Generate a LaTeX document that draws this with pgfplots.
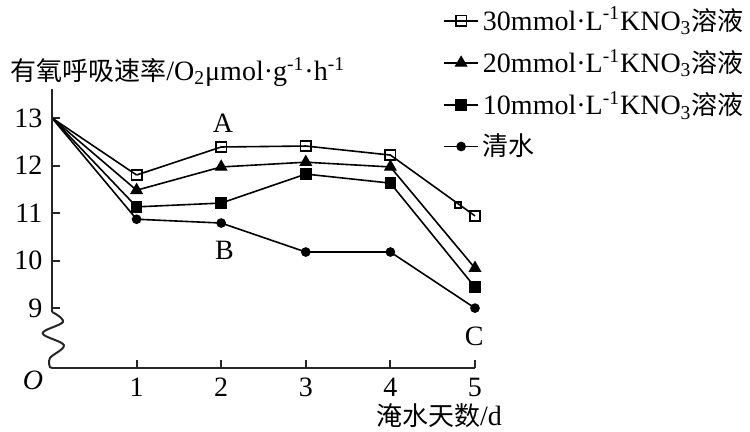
\documentclass[border=0pt]{standalone}
\usepackage{pgfplots}
\pgfplotsset{compat=1.18}
\usepackage{fontspec}
\setmainfont{Liberation Serif}
\newfontfamily\cjk{Noto Sans CJK SC}
\begin{document}
\fontsize{14}{16}\selectfont
\begin{tikzpicture}
\useasboundingbox (-26pt,-32pt) rectangle (349pt,184pt);
\begin{axis}[
  at={(0,0)}, anchor=south west,
  scale only axis, width=211.5pt, height=139.5pt,
  xmin=0, xmax=5, ymin=7.74, ymax=13.61,
  axis lines=left,
  axis line style={-, black!85, line width=1pt},
  y axis line style={draw=none},
  xtick={1,2,3,4,5}, ytick={9,10,11,12,13},
  tick align=inside, major tick length=4pt,
  tick style={black!85, line width=1pt},
  ticklabel style={font=\fontsize{14}{16}\selectfont},
  /pgf/number format/assume math mode=true,
  clip=false,
  legend style={at={(0.924,1.31)}, anchor=north west, draw=none, fill=none,
    inner sep=0pt, font=\fontsize{14}{16}\selectfont, row sep=3.3pt},
  legend cell align=left,
]
% segments from the common start point (no mark)
\addplot[forget plot, black, line width=0.8pt] coordinates {(0,13) (1,11.80)};
\addplot[forget plot, black, line width=0.8pt] coordinates {(0,13) (1,11.48)};
\addplot[forget plot, black, line width=0.8pt] coordinates {(0,13) (1,11.13)};
\addplot[forget plot, black, line width=0.8pt] coordinates {(0,13) (1,10.87)};
\addplot[black, line width=0.8pt, mark=square, mark size=2.6pt,
  mark options={fill=white, line width=0.8pt}]
  coordinates {(1,11.80) (2,12.39) (3,12.41) (4,12.22) (5,10.94)};
\addlegendentry{30mmol·L\textsuperscript{-1}KNO\textsubscript{3}{\cjk\fontsize{13}{15}\selectfont 溶液}}
\addplot[black, line width=0.8pt, mark=triangle*, mark size=3.2pt,
  mark options={line width=0.6pt}]
  coordinates {(1,11.48) (2,11.97) (3,12.07) (4,11.97) (5,9.84)};
\addlegendentry{20mmol·L\textsuperscript{-1}KNO\textsubscript{3}{\cjk\fontsize{13}{15}\selectfont 溶液}}
\addplot[black, line width=0.8pt, mark=square*, mark size=2.6pt,
  mark options={line width=0.6pt}]
  coordinates {(1,11.13) (2,11.21) (3,11.82) (4,11.63) (5,9.44)};
\addlegendentry{10mmol·L\textsuperscript{-1}KNO\textsubscript{3}{\cjk\fontsize{13}{15}\selectfont 溶液}}
\addplot[black, line width=0.8pt, mark=*, mark size=2.1pt,
  mark options={line width=0.6pt}]
  coordinates {(1,10.87) (2,10.79) (3,10.18) (4,10.18) (5,9.0)};
\addlegendentry{{\cjk\fontsize{13}{15}\selectfont 清水}}
\addplot[forget plot, only marks, black, mark=square, mark size=1.5pt,
  mark options={fill=white, line width=0.7pt}]
  coordinates {(4.80,11.17)};
% broken y axis
\draw[black!85, line width=1pt] (axis cs:0,8.92) -- (axis cs:0,13.61);
\draw[black!85, line width=1pt] plot[smooth, tension=0.6] coordinates {
  (axis cs:0,8.92) (axis cs:0.13,8.71) (axis cs:-0.11,8.47)
  (axis cs:0.14,8.22) (axis cs:-0.024,7.95) (axis cs:-0.024,7.76)}
  -- (axis cs:0,7.74);
% annotations
\node at (axis cs:2.02,12.89) {A};
\node at (axis cs:2.04,10.22) {B};
\node at (axis cs:4.99,8.41) {C};
\node at (axis cs:-0.225,7.49) {\itshape O};
\node[anchor=west, inner sep=0pt] at (axis cs:-0.496,13.97)
  {{\cjk\fontsize{13}{15}\selectfont 有氧呼吸速率}/O\textsubscript{2}μmol·g\textsuperscript{-1}·h\textsuperscript{-1}};
\node at (axis cs:4.575,6.73) {{\cjk\fontsize{13}{15}\selectfont 淹水天数}/d};
\end{axis}
\end{tikzpicture}
\end{document}
